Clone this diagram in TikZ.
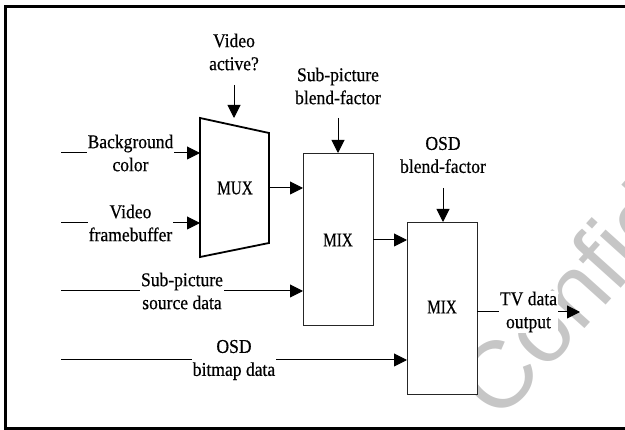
\documentclass[tikz,border=0pt]{standalone}
\usepackage{fontspec}
\setmainfont{Liberation Serif}
\newfontfamily\lblfont[FakeStretch=0.9,FakeBold=0.5]{Liberation Serif}
\newfontfamily\boxfont[FakeStretch=0.78,FakeBold=0.5]{Liberation Serif}
\newfontfamily\wmfont{Liberation Sans}
\usetikzlibrary{arrows.meta}
\begin{document}
\begin{tikzpicture}[x=1pt,y=-1pt,
  lbl/.style={fill=white, inner sep=1pt, align=center, font=\lblfont\fontsize{19.5}{23}\selectfont},
  boxlbl/.style={inner sep=0pt, font=\boxfont\fontsize{19.5}{23}\selectfont},
  conn/.style={line width=1pt, -{Triangle[length=13pt,width=13pt]}},
  mixbox/.style={draw=black!85, fill=white, line width=1.2pt},
  frameline/.style={line width=3pt}
]
\useasboundingbox (0,0) rectangle (625,430);
% watermark
\begin{scope}
\clip (0,0) rectangle (625,430);
\node[anchor=base west, rotate=48, inner sep=0pt, text=gray!45,
      font=\wmfont\fontsize{95}{100}\selectfont] (wm) at (499,424) {Confidential};
\end{scope}
% frame
\draw[frameline] (625,6.5) -- (5.5,6.5) -- (5.5,428.5) -- (625,428.5);
% coordinates
\coordinate (m1) at (200,118);
\coordinate (m2) at (269,133);
\coordinate (m3) at (269,243);
\coordinate (m4) at (200,257);
\coordinate (bgin) at (61,153);
\coordinate (bgend) at (200,153);
\coordinate (vfin) at (61,223);
\coordinate (vfend) at (200,223);
\coordinate (muxout) at (269,188);
\coordinate (mix1in) at (303,188);
\coordinate (spin) at (61,291);
\coordinate (spend) at (303,291);
\coordinate (mix1out) at (373,240);
\coordinate (mix2in) at (407,240);
\coordinate (osdin) at (61,360);
\coordinate (osdend) at (407,360);
\coordinate (mix2out) at (477,312);
\coordinate (tvend) at (580,312);
\coordinate (vastart) at (234,85);
\coordinate (vaend) at (234,118);
\coordinate (spbstart) at (338,118);
\coordinate (spbend) at (338,153);
\coordinate (osbstart) at (443,188);
\coordinate (osbend) at (443,222);
% MUX
\draw[line width=1.8pt, fill=white, line join=miter] (m1) -- (m2) -- (m3) -- (m4) -- cycle;
\node[boxlbl] (mux) at (235,188) {MUX};
% MIX boxes
\node[mixbox, minimum width=70pt, minimum height=172pt, inner sep=0pt, anchor=north west] (mix1) at (303,153) {};
\node[boxlbl] (mix1lbl) at (338,240) {MIX};
\node[mixbox, minimum width=70pt, minimum height=172pt, inner sep=0pt, anchor=north west] (mix2) at (407,222) {};
\node[boxlbl] (mix2lbl) at (442,307) {MIX};
% top labels
\node[lbl] (va) at (234,52) {Video\\active?};
\node[lbl] (spb) at (338,86) {Sub-picture\\blend-factor};
\node[lbl] (osb) at (443,155) {OSD\\blend-factor};
% vertical arrows
\draw[conn] (vastart) -- (vaend);
\draw[conn] (spbstart) -- (spbend);
\draw[conn] (osbstart) -- (osbend);
% horizontal connectors
\draw[conn] (bgin) -- node[lbl] (bg) {Background\\color} (bgend);
\draw[conn] (vfin) -- node[lbl] (vf) {Video\\framebuffer} (vfend);
\draw[conn] (muxout) -- (mix1in);
\draw[conn] (spin) -- node[lbl] (sp) {Sub-picture\\source data} (spend);
\draw[conn] (mix1out) -- (mix2in);
\draw[conn] (osdin) -- node[lbl] (osd) {OSD\\bitmap data} (osdend);
\draw[conn] (mix2out) -- node[lbl] (tv) {TV data\\output} (tvend);
\end{tikzpicture}
\end{document}
